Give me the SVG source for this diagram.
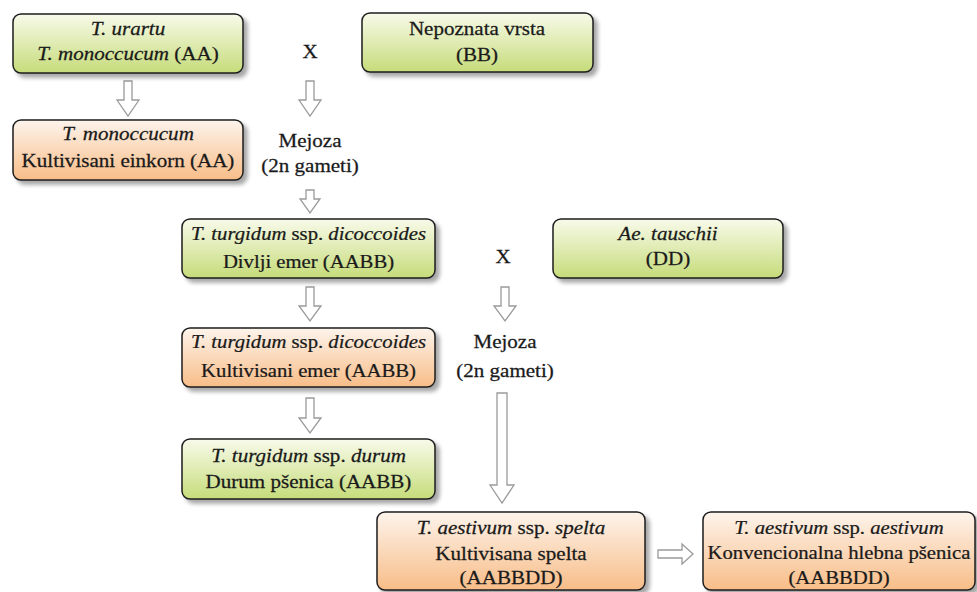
<svg xmlns="http://www.w3.org/2000/svg" width="977" height="592" viewBox="0 0 977 592">
<defs>
<linearGradient id="gGreen" x1="0" y1="0" x2="0" y2="1">
<stop offset="0" stop-color="#f8faea"/>
<stop offset="1" stop-color="#c6dc7a"/>
</linearGradient>
<linearGradient id="gOrange" x1="0" y1="0" x2="0" y2="1">
<stop offset="0" stop-color="#fdf4ec"/>
<stop offset="1" stop-color="#f8bd88"/>
</linearGradient>
<filter id="sh" x="-10%" y="-20%" width="125%" height="150%">
<feGaussianBlur in="SourceAlpha" stdDeviation="2.2"/>
<feOffset dx="4" dy="4" result="b"/>
<feComponentTransfer><feFuncA type="linear" slope="0.35"/></feComponentTransfer>
<feMerge><feMergeNode/><feMergeNode in="SourceGraphic"/></feMerge>
</filter>
</defs>
<style>
.box{stroke:#1e1e1e;stroke-width:1.5;filter:url(#sh)}
.g{fill:url(#gGreen)}
.o{fill:url(#gOrange)}
.t{font-family:"Liberation Serif","Times New Roman",serif;font-size:18px;fill:#1a1a1a;stroke:#1a1a1a;stroke-width:0.25;text-anchor:middle}
.i{font-style:italic}
.arr{fill:#ffffff;stroke:#9a9a9a;stroke-width:1.3;stroke-linejoin:miter}
</style>

<g id="connectors">
<path class="arr" d="M124,81 H132 V100 H139 L128,116 L117,100 H124 Z"/>
<path class="arr" d="M306,81 H314 V100 H321 L310,116 L299,100 H306 Z"/>
<path class="arr" d="M306,190 H314 V199 H320 L310,213 L300,199 H306 Z"/>
<path class="arr" d="M306,287 H314 V306 H321 L310,321 L299,306 H306 Z"/>
<path class="arr" d="M501,287 H509 V306 H516 L505,321 L494,306 H501 Z"/>
<path class="arr" d="M306,398 H314 V418 H321 L310,433 L299,418 H306 Z"/>
<path class="arr" d="M497,393 H507 V485 H514 L502,503 L490,485 H497 Z"/>
<path class="arr" d="M658,550 H682 V544 L693,554 L682,564 V558 H658 Z"/>
</g>

<g id="n-urartu">
<rect class="box g" x="13" y="14" width="230" height="59" rx="8"/>
<text class="t" transform="translate(128 0) scale(1.17 1)"><tspan x="0" y="35" class="i">T. urartu</tspan><tspan x="0" y="60"><tspan class="i">T. monoccucum</tspan> (AA)</tspan></text>
</g>

<g id="x1"><text class="t" transform="translate(310 58) scale(1.17 1)" x="0" y="0">X</text></g>

<g id="n-nepoznata">
<rect class="box g" x="362" y="13" width="231" height="59" rx="8"/>
<text class="t" transform="translate(477 0) scale(1.17 1)"><tspan x="0" y="35">Nepoznata vrsta</tspan><tspan x="0" y="61">(BB)</tspan></text>
</g>

<g id="n-monoccucum">
<rect class="box o" x="13" y="120" width="230" height="60" rx="8"/>
<text class="t" transform="translate(128 0) scale(1.17 1)"><tspan x="0" y="140" class="i">T. monoccucum</tspan><tspan x="0" y="167">Kultivisani einkorn (AA)</tspan></text>
</g>

<g id="mejoza1"><text class="t" transform="translate(310 0) scale(1.17 1)"><tspan x="0" y="147">Mejoza</tspan><tspan x="0" y="172">(2n gameti)</tspan></text></g>

<g id="n-divlji">
<rect class="box g" x="182" y="219" width="253" height="59" rx="8"/>
<text class="t" transform="translate(308.5 0) scale(1.15 1)"><tspan x="0" y="240"><tspan class="i">T. turgidum</tspan> ssp. <tspan class="i">dicoccoides</tspan></tspan><tspan x="0" y="268">Divlji emer (AABB)</tspan></text>
</g>

<g id="x2"><text class="t" transform="translate(503 263) scale(1.17 1)" x="0" y="0">X</text></g>

<g id="n-tauschii">
<rect class="box g" x="553" y="219" width="230" height="59" rx="8"/>
<text class="t" transform="translate(668 0) scale(1.17 1)"><tspan x="0" y="240" class="i">Ae. tauschii</tspan><tspan x="0" y="265">(DD)</tspan></text>
</g>

<g id="n-kultemer">
<rect class="box o" x="182" y="328" width="253" height="59" rx="8"/>
<text class="t" transform="translate(308.5 0) scale(1.15 1)"><tspan x="0" y="348"><tspan class="i">T. turgidum</tspan> ssp. <tspan class="i">dicoccoides</tspan></tspan><tspan x="0" y="377">Kultivisani emer (AABB)</tspan></text>
</g>

<g id="mejoza2"><text class="t" transform="translate(505 0) scale(1.17 1)"><tspan x="0" y="348">Mejoza</tspan><tspan x="0" y="377">(2n gameti)</tspan></text></g>

<g id="n-durum">
<rect class="box g" x="182" y="439" width="253" height="60" rx="8"/>
<text class="t" transform="translate(308.5 0) scale(1.17 1)"><tspan x="0" y="462"><tspan class="i">T. turgidum</tspan> ssp. <tspan class="i">durum</tspan></tspan><tspan x="0" y="488">Durum pšenica (AABB)</tspan></text>
</g>

<g id="n-spelta">
<rect class="box o" x="377" y="512" width="268" height="78" rx="8"/>
<text class="t" transform="translate(511 0) scale(1.17 1)"><tspan x="0" y="534"><tspan class="i">T. aestivum</tspan> ssp. <tspan class="i">spelta</tspan></tspan><tspan x="0" y="560">Kultivisana spelta</tspan><tspan x="0" y="584">(AABBDD)</tspan></text>
</g>

<g id="n-aestivum">
<rect class="box o" x="703" y="512" width="272" height="78" rx="8"/>
<text class="t" transform="translate(839 0) scale(1.15 1)"><tspan x="0" y="534"><tspan class="i">T. aestivum</tspan> ssp. <tspan class="i">aestivum</tspan></tspan><tspan x="0" y="559">Konvencionalna hlebna pšenica</tspan><tspan x="0" y="584">(AABBDD)</tspan></text>
</g>
</svg>
